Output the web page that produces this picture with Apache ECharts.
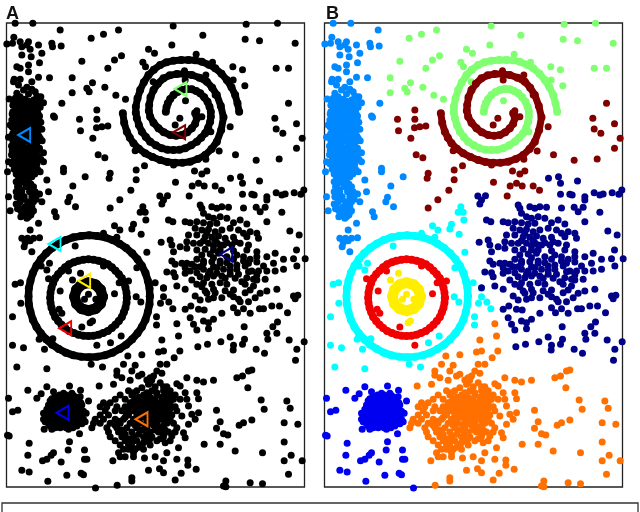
<!DOCTYPE html>
<html><head><meta charset="utf-8">
<style>html,body{margin:0;padding:0;background:#fff}#c{width:640px;height:512px}</style>
<script src="https://cdn.jsdelivr.net/npm/echarts@6/dist/echarts.min.js"></script>
</head><body><div id="c"></div>
<script>
// flat x,y lists
const lightBlue=[45,70,98,70,180,90,41,112,20,132,37,130,60,125,85,125,115,135,65,140,90,148,80,135,125,160,65,165,93,170,118,188,155,130,157,140,183,138,85,195,50,200,60,205,85,215,115,232,148,233,42,238,40,245,60,238,95,245,55,255,80,262,95,268,70,270,105,275,50,280,85,282,122,290,110,288,27,297,45,295,60,290,75,298,100,300,130,308,185,310,160,348,163,352,25,412,190,505,190,515,255,530,218,558,145,575,208,592,203,605,226,620,163,635,168,650,140,540,115,670,90,690,65,715,82,715,100,715,118,713,75,728,90,722,72,740,95,755];
const lightBlueRows=[[310,40,58,75,92,110],[322,48,66,84,102,120],[335,38,55,78,95,112],[348,45,62,88,105,118],[360,35,52,70,85,108],[375,30,48,66,92,115],[388,42,58,80,100,125],[400,38,55,75,95,112],[415,44,62,85,105,120],[430,48,68,90,110],[445,40,58,78,98,118],[458,46,65,85,105,130],[470,42,60,75,95,115],[485,25,40,55,72,90,110,130],[500,45,62,82,100],[515,22,50,70,88,120],[530,55,75,95],[545,48,68,85],[560,52,78,100],[575,48,65,88,105],[590,25,50,72,95],[605,60,82,100,125],[620,55,75,95],[632,30,62,85,100],[645,70,92],[655,80],
[304,50,68,85,102,118],[316,38,56,74,93,112],[329,46,66,86,104],[342,36,53,72,96,114],[354,42,60,78,96,116],[367,40,58,76,100,122],[381,36,54,72,88,108],[394,48,68,90,108],[408,34,50,70,95,116],[422,38,56,78,98,126],[438,34,50,66,88,106],[452,36,52,72,92,112],[464,34,52,68,88,106],[478,48,64,82,100,122],[492,36,54,70,92,110],[508,42,58,80,96,112],[522,48,64,86,104],[538,62,80],[552,58,92],[568,60,95],[582,58,100,118],[598,68,108],[612,48,90],[626,52,88],[638,76,94],[650,62,85]];
const lightGreen=[519,78,608,106,738,73,832,70,735,118,778,122,885,130,515,135,355,90,310,103,273,115,245,184,343,180,364,167,323,205,216,233,216,278,277,248,260,265,267,275,314,262,347,286,376,298,445,148,463,160,428,187,436,200,588,163,637,187,698,200,727,209,699,240,734,257,828,205,865,205,459,245,556,302,632,395];
const spiralGreen=[497,335,499,322,503,310,510,297,520,285,532,276,545,270,560,267,575,268,588,273,600,280,612,292,622,305,628,320,632,335,632,350,630,365,624,383,615,400,603,413,590,425,573,436,555,445,538,449,520,450,502,449,485,445,467,436,450,425,437,411,425,395,416,375,410,355,407,338,407,320,412,295,420,270,431,247,445,225,461,209,480,195,499,187,520,182,543,180,565,180,585,181,605,185,626,194,645,205,664,221,680,240,694,262,705,285,712,310,717,335];
const darkRed=[553,212,555,240,617,225,645,285,690,380,657,453,617,478,405,452,520,495,539,355,525,375,605,350,590,332,290,330,238,358,290,358,241,392,289,383,305,380,323,378,278,415,294,464,314,473,330,520,327,535,408,510,433,497,408,539,392,571,359,599,330,624,583,513,605,522,620,513,526,547,595,550,576,558,612,558,645,558,664,571,567,588,706,464,768,481,837,477,865,310,824,355,828,387,848,400,889,371,906,415,889,445];
const spiralDarkRed=[585,340,589,347,590,355,585,371,575,385,561,397,545,405,528,407,510,405,491,397,475,385,460,368,450,350,446,332,447,315,451,292,460,270,473,251,490,235,509,226,530,222,553,222,575,225,598,233,620,245,636,263,650,285,662,318,670,352,663,390,650,425,634,447,615,465,593,477,570,485,547,488,525,488,502,486,480,480,457,471,435,460,416,446,400,430,389,413,380,395,372,368,368,340];
const cyan=[428,620,420,637,435,637,437,660,343,677,359,690,400,673,395,687,423,703,225,738,440,757,310,700,350,712,45,853,61,848,62,910,37,950,37,1036,70,1043,133,1048,50,1101,140,1106,273,1093,307,1101,331,1028,363,1008,158,1016,123,798,148,790,140,810,410,803,465,848,490,865,490,890,408,890,422,906,481,910,506,906,518,926,469,950,469,975,117,1018];
const ringCyan=[449,889,448,865,443,842,436,819,425,797,412,778,396,760,378,744,358,731,337,720,314,712,291,708,267,706,243,708,220,712,197,720,176,731,156,744,138,760,122,778,109,797,98,819,91,842,86,865,85,889,86,913,91,936,98,959,109,981,122,1000,138,1018,156,1034,176,1047,197,1058,220,1066,243,1070,267,1072,291,1070,314,1066,337,1058,358,1047,378,1034,396,1018,412,1000,425,981,436,959,443,936,448,913,449,889];
const red=[205,813,145,836,180,873,177,928,185,940,245,981,290,1036,343,881,310,798,357,848,385,843];
const ringRed=[380,893,379,878,376,863,371,849,365,835,356,823,346,812,335,802,323,793,309,787,295,782,280,779,265,778,250,779,235,782,221,787,207,793,195,802,184,812,174,823,165,835,159,849,154,863,151,878,150,893,151,908,154,923,159,937,165,951,174,963,184,974,195,984,207,993,221,999,235,1004,250,1007,265,1008,280,1007,295,1004,309,999,323,993,335,984,346,974,356,963,365,951,371,937,376,923,379,908,380,893];
const yellow=[241,820,217,840,265,883,253,898,287,898,277,963,270,968];
const ringYellow=[307,890,301,869,286,854,265,848,244,854,229,869,223,890,229,911,244,926,265,932,286,926,301,911,307,890];
const navy=[691,535,721,530,727,550,778,543,727,583,755,583,762,585,800,590,800,600,828,578,845,585,855,582,882,578,902,583,911,570,730,624,768,622,780,635,795,622,845,637,800,665,869,693,897,705,889,750,825,760,479,588,502,587,490,600,485,612,600,615,605,625,635,620,650,625,665,620,685,622,610,640,625,650,640,655,660,650,680,655,505,660,518,665,555,665,570,668,590,665,610,668,630,672,650,670,700,668,720,660,740,672,585,685,605,690,625,688,645,695,665,690,690,685,715,690,730,700,750,695,770,700,565,705,590,705,615,710,635,712,655,708,675,715,700,712,740,710,775,715,510,720,540,740,483,727,515,735,560,725,580,730,600,730,625,730,650,728,670,735,695,735,720,730,745,735,520,755,560,745,590,750,615,748,640,750,660,750,700,752,740,750,770,755,515,783,525,793,500,816,520,818,525,830,555,803,575,793,590,778,610,783,640,773,660,783,680,788,700,778,730,783,750,778,770,786,790,798,820,790,850,778,880,776,915,776,890,798,825,813,850,808,800,813,570,813,590,818,610,808,630,813,650,803,670,808,690,798,710,808,735,798,755,813,775,813,795,838,620,833,640,828,665,828,690,823,715,823,740,833,760,838,530,858,490,863,555,868,590,853,610,848,635,853,660,848,680,853,735,853,760,858,800,873,830,868,615,873,640,868,665,893,690,883,715,898,735,878,765,893,585,888,625,898,640,893,880,888,893,886,885,896,555,928,572,918,595,928,612,930,665,940,700,923,712,938,730,926,750,940,778,926,790,926,815,918,838,918,862,938,570,953,580,973,590,990,610,963,625,968,625,986,640,958,732,980,832,966,818,980,830,1000,800,1000,803,1018,690,1011,733,1018,727,1033,700,1036,699,1050,662,1025,622,1033,593,1040,768,1048,793,1060,867,1020,912,1025,890,1048,886,1081,
620,700,645,722,660,735,640,738,610,722,680,728,705,725,655,760,630,762,605,765,680,770,710,765,730,770,660,790,635,785,610,790,585,800,560,790,640,800,690,812,710,795,650,820,625,822,600,830,675,835,705,835,725,845,745,815,770,825,745,790,770,770,800,770,600,800,545,790,555,820,575,840,605,860,645,878,675,872,700,870,750,870,770,840,780,880,720,905,745,905,700,890,620,880,600,900];
const orange=[530,971,535,1008,485,1020,539,1053,490,1053,475,1056,522,1073,425,1064,383,1068,370,1093,405,1096,395,1113,350,1113,350,1126,500,1093,480,1093,470,1113,485,1120,425,1123,415,1128,365,1133,390,1141,450,1133,460,1128,340,1153,297,1158,425,1163,445,1153,560,1133,590,1141,610,1146,640,1141,530,1151,540,1158,710,1133,727,1128,745,1113,755,1110,743,1163,783,1200,792,1228,860,1203,870,1225,755,1260,730,1268,717,1276,852,1268,893,1273,649,1231,660,1265,649,1285,670,1301,683,1305,612,1333,660,1333,705,1353,787,1358,852,1326,873,1366,852,1382,906,1382,865,1423,750,1448,787,1451,677,1443,677,1460,670,1458,525,1440,543,1420,588,1408,563,1380,563,1396,530,1378,490,1418,478,1406,445,1411,490,1382,465,1370,433,1374,395,1433,395,1443,351,1456,338,1382,555,1178,560,1198,565,1218,590,1178,595,1196,595,1238,575,1243,585,1258,565,1273,545,1248,550,1298,555,1313,530,1283,535,1343,500,1358,515,1308];
const orangeRows=[[1172,385,410,455,490,510],[1185,360,395,430,470,500,525],[1198,345,375,405,440,465,495,520,540],[1208,310,330,390,420,450,480,510],[1220,300,320,350,375,405,435,460,490,525],[1232,315,345,365,395,425,450,475,505,530],[1245,300,325,385,410,440,465,490,515],[1258,285,310,345,370,400,455,480,510],[1270,280,300,330,360,390,420,445,470,500,520],[1283,275,320,350,380,410,440,480],[1296,325,355,395,450,475,505,525],[1310,330,365,400,430,455,490],[1322,345,375,410,440,470,510],[1335,360,385,420,450],[1348,370,385,405,430],[1358,355,400],[1370,360,375,400],
[1178,400,440,470,495],[1192,415,450,485,510],[1204,400,430,460,490],[1214,410,440,470,500],[1226,390,420,450,475,510],[1238,380,410,440,465,490],[1252,375,425,450,475,505],[1264,355,415,440,465,495],[1276,345,405,435,460,490],[1290,365,425,465,495],[1303,375,415,440,490],[1316,385,450,480],[1328,395,430,495],[1342,395,415],[1160,465,490,500],[1148,450,480],[1140,440,455]];
const blue=[83,1171,25,1195,37,1235,53,1231,22,1306,27,1308,110,1195,123,1181,140,1160,160,1175,208,1158,241,1171,265,1203,87,1330,83,1366,208,1325,204,1350,253,1350,253,1378,260,1378,183,1386,160,1358,153,1366,140,1378,127,1382,65,1411,87,1416,200,1426,243,1420,250,1424,143,1444,286,1464,238,1301];
const blueRows=[[1180,190,215],[1190,165,185,205,225,240],[1202,150,170,195,215,235],[1215,145,165,185,205,225,245],[1228,140,160,180,200,220,240],[1240,130,150,170,190,210,235,258],[1252,140,160,180,200,220,245],[1265,135,155,175,195,215,235,255],[1278,150,170,190,210,230],[1288,132,155,205],
[1185,178,198,218],[1196,155,175,195,215,232],[1208,160,180,205,225,242],[1221,150,172,192,212,232],[1234,148,170,190,210,230,250],[1246,140,160,180,200,222,245],[1258,130,150,170,190,210,230,250],[1271,145,165,185,205,225,245],[1283,165,180,198,218]];
const centers=[[72,405,'#0088ff'],[541,267,'#80ff70'],[537,397,'#800000'],[163,732,'#00ffff'],[252,842,'#ffee00'],[195,985,'#f00000'],[678,763,'#000088'],[187,1238,'#0000f0'],[424,1258,'#ff7000']];

const pairs=f=>{const o=[];for(let i=0;i<f.length;i+=2)o.push([f[i],f[i+1]]);return o;};
const rows=r=>r.flatMap(a=>a.slice(1).map(x=>[x,a[0]]));
const dots=[
 [pairs(lightBlue).concat(rows(lightBlueRows)),'#0088ff',7],
 [pairs(lightGreen),'#80ff70',7],
 [pairs(spiralGreen),'#80ff70',8],
 [pairs(darkRed),'#800000',7],
 [pairs(spiralDarkRed),'#800000',8],
 [pairs(cyan),'#00ffff',7],
 [pairs(ringCyan),'#00ffff',8],
 [pairs(red),'#f00000',7],
 [pairs(ringRed),'#f00000',8],
 [pairs(yellow),'#ffee00',7],
 [pairs(ringYellow),'#ffee00',11],
 [pairs(navy),'#000088',7],
 [pairs(blue).concat(rows(blueRows)),'#0000f0',7],
 [pairs(orange).concat(rows(orangeRows)),'#ff7000',7]];
const curves=[[spiralGreen,'#80ff70',7],[spiralDarkRed,'#800000',7],[ringCyan,'#00ffff',7.5],[ringRed,'#f00000',7],[ringYellow,'#ffee00',10.5]];

const series=[];
[0,1].forEach(p=>{
 dots.forEach(([d,col,s])=>series.push({type:'scatter',xAxisIndex:p,yAxisIndex:p,data:d,symbolSize:s,clip:false,silent:true,animation:false,z:2,
   itemStyle:{color:p?col:'#000',opacity:1}}));
 curves.forEach(([c,col,w])=>series.push({type:'line',xAxisIndex:p,yAxisIndex:p,data:pairs(c),smooth:false,showSymbol:false,symbol:'none',clip:false,silent:true,animation:false,z:2,
   lineStyle:{color:p?col:'#000',width:w}}));
});
centers.forEach(([x,y,col])=>series.push({type:'scatter',xAxisIndex:0,yAxisIndex:0,data:[[x,y]],symbol:'triangle',symbolSize:[14,12],symbolRotate:90,clip:false,silent:true,animation:false,z:5,
   itemStyle:{color:'rgba(0,0,0,0)',borderColor:col,borderWidth:2,opacity:1}}));

const ax=(min,max,gi,inv)=>({type:'value',gridIndex:gi,min,max,inverse:inv,show:false,scale:true});
const chart=echarts.init(document.getElementById('c'),null,{renderer:'canvas'});
chart.setOption({
 animation:false,backgroundColor:'#fff',
 title:[{text:'A',left:1,top:0,textStyle:{fontFamily:'Liberation Sans',fontWeight:'bold',fontSize:18,color:'#111'}},
        {text:'B',left:321,top:0,textStyle:{fontFamily:'Liberation Sans',fontWeight:'bold',fontSize:18,color:'#111'}}],
 grid:[{left:6.5,top:23,width:298,height:464,show:true,borderColor:'#222',borderWidth:1.3,backgroundColor:'#fff'},
       {left:324.5,top:23,width:298,height:464,show:true,borderColor:'#222',borderWidth:1.3,backgroundColor:'#fff'}],
 xAxis:[ax(19,913,0,false),ax(19,913,1,false)],
 yAxis:[ax(69,1461,0,true),ax(69,1461,1,true)],
 series,
 graphic:[{type:'rect',shape:{x:2,y:503,width:636,height:30},style:{fill:'none',stroke:'#333',lineWidth:1.3},silent:true}]
});
</script></body></html>
